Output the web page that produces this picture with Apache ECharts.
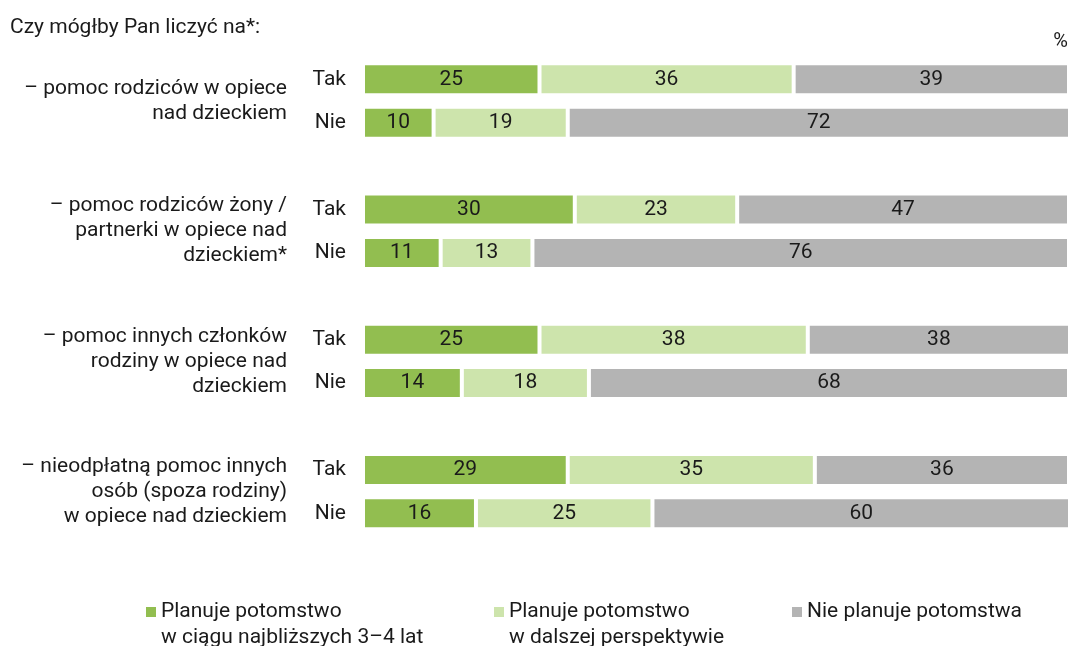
<!DOCTYPE html>
<html>
<head>
<meta charset="utf-8">
<script src="https://cdn.jsdelivr.net/npm/echarts@6/dist/echarts.min.js"></script>
<style>
html,body{margin:0;padding:0;background:#fff;}
#chart{width:1072px;height:646px;}
</style>
</head>
<body>
<div id="chart"></div>
<script>
// ---- data ----
const titleText = 'Czy mógłby Pan liczyć na*:';
const unitText = '%';
const rowLabels = ['Tak', 'Nie', '', 'Tak', 'Nie', '', 'Tak', 'Nie', '', 'Tak', 'Nie'];
const groupLabels = [
  '– pomoc rodziców w opiece\nnad dzieckiem',
  '– pomoc rodziców żony /\npartnerki w opiece nad\ndzieckiem*',
  '– pomoc innych członków\nrodziny w opiece nad\ndzieckiem',
  '– nieodpłatną pomoc innych\nosób (spoza rodziny)\nw opiece nad dzieckiem'
];
const groupLabelPositions = [1, 4, 7, 10];
const seriesNames = [
  'Planuje potomstwo\nw ciągu najbliższych 3–4 lat',
  'Planuje potomstwo\nw dalszej perspektywie',
  'Nie planuje potomstwa'
];
const planSoon  = [25, 10, null, 30, 11, null, 25, 14, null, 29, 16];
const planLater = [36, 19, null, 23, 13, null, 38, 18, null, 35, 25];
const noPlan    = [39, 72, null, 47, 76, null, 38, 68, null, 36, 60];
const colors = ['#92be50', '#cde4ac', '#b4b4b4'];

// ---- chart ----
const FONT = 'Roboto';
const TXT = '#1a1a1a';
const FS = 21;
const chart = echarts.init(document.getElementById('chart'), null, {renderer: 'canvas'});

function barSeries(name, data, color) {
  return {
    name: name,
    type: 'bar',
    stack: 'total',
    data: data,
    barWidth: 32,
    yAxisIndex: 0,
    clip: true,
    itemStyle: {color: color, borderColor: '#ffffff', borderWidth: 2},
    label: {
      show: true,
      position: 'inside',
      color: TXT,
      fontFamily: FONT,
      fontSize: FS,
      formatter: p => (p.value == null ? '' : String(p.value))
    },
    emphasis: {disabled: true}
  };
}

function legendFor(idx, left, twoLine) {
  return {
    left: left,
    top: 599,
    padding: 0,
    orient: 'horizontal',
    selectedMode: false,
    data: [{
      name: seriesNames[idx],
      icon: twoLine ? 'path://M0,0H10V10H0Z M0,35.99H0.01V36H0Z' : 'rect'
    }],
    itemWidth: 10,
    itemHeight: twoLine ? 36 : 10,
    itemStyle: {borderWidth: 0},
    textStyle: {
      fontFamily: FONT,
      fontSize: FS,
      color: TXT,
      lineHeight: 26
    }
  };
}

const option = {
  animation: false,
  backgroundColor: '#ffffff',
  color: colors,
  title: [
    {
      text: titleText,
      left: 10,
      top: 16,
      padding: 0,
      textStyle: {fontFamily: FONT, fontSize: FS, fontWeight: 'normal', color: TXT, lineHeight: 24}
    },
    {
      text: unitText,
      right: 4,
      top: 31,
      padding: 0,
      textStyle: {fontFamily: FONT, fontSize: 20, fontWeight: 'normal', color: TXT, lineHeight: 22}
    }
  ],
  legend: [
    legendFor(0, 146, true),
    legendFor(1, 494, true),
    legendFor(2, 792, false)
  ],
  grid: {
    left: 363,
    right: 3,
    top: 57.6,
    bottom: 111,
    containLabel: false
  },
  xAxis: {
    type: 'value',
    min: 0,
    max: 100,
    show: false
  },
  yAxis: [
    {
      type: 'category',
      data: rowLabels,
      inverse: true,
      position: 'left',
      axisLine: {show: false},
      axisTick: {show: false},
      splitLine: {show: false},
      axisLabel: {
        margin: 17,
        fontFamily: FONT,
        fontSize: FS,
        color: TXT,
        interval: 0
      }
    },
    {
      type: 'value',
      min: 0,
      max: 11,
      interval: 1,
      inverse: true,
      position: 'left',
      axisLine: {show: false},
      axisTick: {show: false},
      splitLine: {show: false},
      axisLabel: {
        margin: 76,
        fontFamily: FONT,
        fontSize: FS,
        color: TXT,
        lineHeight: 25,
        align: 'right',
        showMinLabel: true,
        showMaxLabel: true,
        formatter: function (v) {
          const k = groupLabelPositions.indexOf(Math.round(v));
          return k >= 0 ? groupLabels[k] : '';
        }
      }
    }
  ],
  series: [
    barSeries(seriesNames[0], planSoon, colors[0]),
    barSeries(seriesNames[1], planLater, colors[1]),
    barSeries(seriesNames[2], noPlan, colors[2])
  ]
};

chart.setOption(option);
</script>
</body>
</html>
